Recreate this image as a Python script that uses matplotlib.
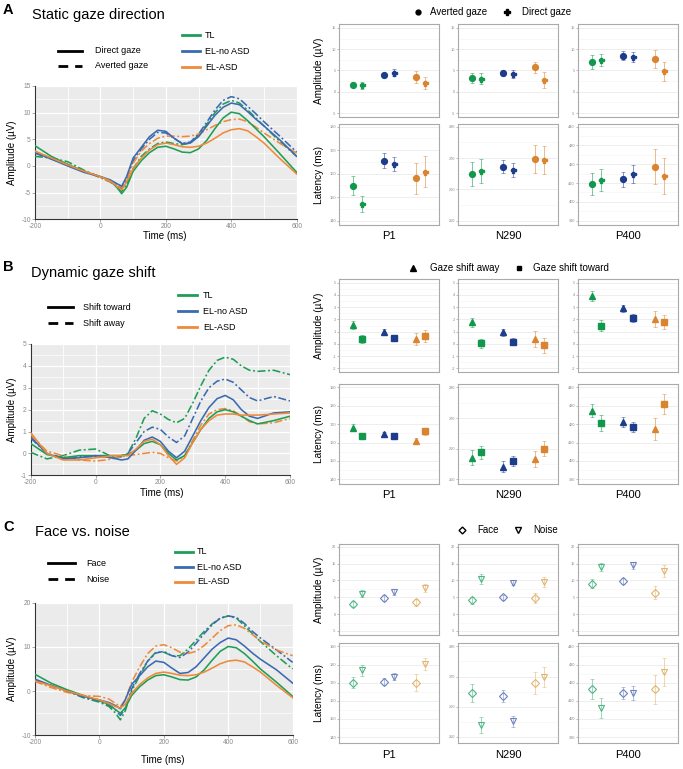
import matplotlib
matplotlib.use("Agg")
import matplotlib.pyplot as plt
from matplotlib.lines import Line2D
import numpy as np

plt.rcParams['font.family'] = ['Liberation Sans', 'DejaVu Sans']
plt.rcParams['axes.unicode_minus'] = False

W, H = 683, 769

# ---------------- data ----------------
groups = ["TL", "EL-no ASD", "EL-ASD"]
components = ["P1", "N290", "P400"]

t = [-200, -150, -100, -50, 0, 30, 50, 65, 80, 100, 125, 150, 175, 200, 225, 250,
     275, 300, 325, 350, 375, 400, 425, 450, 475, 500, 550, 600]

# Panel A ERP (static gaze direction)
A_TL_direct = [3.8, 1.8, 0.3, -1.0, -2.0, -2.8, -4.0, -5.2, -4.0, -1.0, 1.0, 2.5, 3.5, 3.7, 3.2, 2.6,
               2.5, 3.2, 4.8, 7.0, 9.0, 10.1, 9.8, 8.5, 7.0, 5.5, 2.2, -1.2]
A_TL_averted = [1.8, 1.5, 0.8, -0.8, -2.2, -3.0, -3.8, -4.8, -3.5, -0.5, 1.8, 3.2, 4.2, 4.5, 4.2, 4.0,
                4.3, 5.8, 7.8, 10.0, 11.6, 12.3, 11.8, 10.5, 9.0, 7.5, 4.5, 1.8]
A_ELno_direct = [2.5, 1.3, 0.0, -1.2, -2.0, -2.6, -3.3, -3.8, -2.0, 1.5, 3.5, 5.5, 6.7, 6.5, 5.2, 4.2,
                 4.3, 5.5, 7.5, 9.5, 11.0, 11.8, 11.5, 10.2, 8.8, 7.5, 4.8, 1.8]
A_ELno_averted = [2.4, 1.3, 0.2, -1.0, -2.0, -2.8, -3.6, -4.2, -2.5, 1.0, 3.2, 5.0, 6.3, 6.2, 5.2, 4.2,
                  4.5, 6.0, 8.2, 10.5, 12.3, 13.0, 12.6, 11.2, 9.8, 8.3, 5.5, 2.6]
A_ASD_direct = [2.8, 1.5, 0.2, -1.0, -2.0, -2.8, -3.8, -4.5, -3.0, -0.5, 1.5, 3.0, 4.0, 4.3, 4.0, 3.6,
                3.5, 3.7, 4.3, 5.2, 6.2, 6.8, 7.0, 6.6, 5.5, 4.3, 1.3, -1.5]
A_ASD_averted = [2.6, 1.5, 0.3, -1.0, -2.2, -3.0, -3.6, -4.0, -2.5, 0.5, 2.8, 4.2, 5.2, 5.6, 5.6, 5.5,
                 5.6, 6.0, 6.8, 7.6, 8.3, 8.7, 8.8, 8.3, 7.3, 6.2, 4.2, 2.4]

# Panel B ERP (dynamic gaze shift)
B_TL_toward = [0.45, -0.05, -0.2, -0.1, -0.1, -0.1, -0.1, -0.1, -0.1, -0.05, 0.15, 0.45, 0.55, 0.4, 0.0, -0.3,
               -0.1, 0.5, 1.1, 1.6, 1.9, 2.0, 1.9, 1.7, 1.5, 1.35, 1.5, 1.7]
B_TL_away = [0.05, -0.25, -0.1, 0.15, 0.2, 0.0, -0.15, -0.2, -0.1, 0.0, 0.7, 1.6, 1.95, 1.8, 1.55, 1.4,
             1.6, 2.3, 3.1, 3.8, 4.25, 4.4, 4.3, 4.0, 3.8, 3.75, 3.8, 3.6]
B_ELno_toward = [0.75, 0.0, -0.25, -0.2, -0.1, -0.15, -0.2, -0.25, -0.3, -0.25, 0.15, 0.6, 0.75, 0.55, 0.1, -0.2,
                 0.1, 0.8, 1.5, 2.1, 2.5, 2.65, 2.45, 2.0, 1.7, 1.6, 1.85, 1.9]
B_ELno_away = [0.7, 0.0, -0.2, -0.15, -0.15, -0.15, -0.2, -0.2, -0.15, 0.0, 0.5, 1.0, 1.2, 1.1, 0.75, 0.5,
               0.8, 1.6, 2.4, 3.0, 3.3, 3.4, 3.25, 2.9, 2.55, 2.4, 2.6, 2.4]
B_ASD_toward = [0.95, 0.0, -0.3, -0.3, -0.2, -0.15, -0.1, -0.1, -0.1, -0.1, 0.2, 0.55, 0.65, 0.4, -0.1, -0.5,
                -0.2, 0.5, 1.1, 1.5, 1.75, 1.8, 1.8, 1.75, 1.75, 1.75, 1.8, 1.85]
B_ASD_away = [0.85, 0.1, -0.1, -0.3, -0.35, -0.3, -0.25, -0.2, -0.15, -0.1, -0.05, 0.0, 0.05, 0.0, -0.2, -0.35,
              -0.1, 0.6, 1.3, 1.8, 2.0, 2.05, 1.95, 1.7, 1.45, 1.35, 1.4, 1.6]

# Panel C ERP (face vs noise)
C_TL_face = [3.8, 1.8, 0.3, -1.0, -2.2, -3.0, -4.2, -5.0, -3.8, -1.0, 1.0, 2.5, 3.5, 3.7, 3.2, 2.6,
             2.5, 3.2, 4.8, 7.0, 9.0, 10.1, 9.8, 8.5, 6.8, 5.0, 2.0, -1.2]
C_TL_noise = [2.5, 1.3, 0.0, -1.5, -2.5, -3.5, -5.0, -6.5, -4.5, 0.0, 3.5, 6.8, 8.8, 8.8, 8.0, 8.0,
              9.5, 11.5, 13.5, 15.2, 16.5, 17.0, 16.5, 14.8, 13.0, 11.2, 8.0, 5.0]
C_ELno_face = [2.7, 1.3, 0.0, -1.2, -2.0, -2.6, -3.3, -4.0, -2.0, 1.5, 3.5, 5.5, 6.8, 6.5, 5.2, 4.0,
               4.2, 5.5, 7.5, 9.5, 11.0, 12.0, 11.6, 10.2, 8.6, 7.2, 4.8, 1.8]
C_ELno_noise = [2.5, 1.2, 0.0, -1.3, -2.3, -3.2, -4.3, -5.5, -4.0, 0.5, 4.0, 6.8, 8.6, 9.0, 8.0, 7.6,
                8.8, 10.8, 13.0, 15.0, 16.5, 17.0, 16.7, 15.3, 13.5, 12.0, 9.3, 6.5]
C_ASD_face = [2.3, 1.2, 0.0, -1.0, -2.0, -2.8, -3.5, -3.8, -3.0, -0.5, 1.5, 3.0, 4.0, 4.3, 4.0, 3.6,
              3.5, 3.7, 4.3, 5.2, 6.2, 6.8, 7.0, 6.6, 5.5, 4.3, 1.3, -1.5]
C_ASD_noise = [2.2, 0.8, -0.3, -1.0, -1.2, -1.8, -2.8, -3.5, -2.0, 2.0, 5.5, 8.5, 10.2, 10.5, 9.8, 8.8,
               8.5, 9.0, 10.3, 12.0, 13.7, 14.8, 15.0, 14.2, 12.8, 11.3, 9.3, 8.0]

# Component means / errors: rows = P1, N290, P400 ; columns = TL, EL-no ASD, EL-ASD
A_amp_averted = [[1.65, 3.9, 3.4], [3.2, 4.4, 5.8], [7.0, 8.5, 7.7]]
A_amp_averted_err = [[0.55, 0.45, 1.4], [1.2, 0.7, 1.3], [1.7, 1.05, 2.0]]
A_amp_direct = [[1.5, 4.5, 2.0], [3.05, 4.2, 2.8], [7.4, 8.2, 4.8]]
A_amp_direct_err = [[0.8, 0.8, 1.4], [1.25, 0.9, 1.8], [1.4, 1.1, 2.3]]
A_lat_averted = [[154.9, 165.5, 158.0], [264.8, 267.3, 269.6], [409.5, 412.0, 418.7]]
A_lat_averted_err = [[4.1, 3.2, 6.6], [3.8, 2.2, 4.5], [5.9, 3.9, 9.3]]
A_lat_direct = [[147.1, 164.1, 160.9], [265.9, 266.2, 269.4], [411.6, 414.8, 413.8]]
A_lat_direct_err = [[3.5, 2.9, 6.7], [3.9, 2.3, 4.6], [5.7, 5.0, 9.4]]

B_amp_away = [[1.53, 0.96, 0.41], [1.75, 0.93, 0.38], [3.88, 2.92, 2.02]]
B_amp_away_err = [[0.35, 0.27, 0.5], [0.38, 0.3, 0.65], [0.4, 0.28, 0.68]]
B_amp_toward = [[0.4, 0.49, 0.66], [0.05, 0.19, -0.12], [1.5, 2.1, 1.77]]
B_amp_toward_err = [[0.3, 0.25, 0.5], [0.38, 0.28, 0.6], [0.45, 0.33, 0.55]]
B_lat_away = [[168.1, 164.8, 160.8], [257.1, 254.2, 256.5], [427.3, 421.3, 417.5]]
B_lat_away_err = [[1.8, 1.1, 1.8], [2.4, 1.7, 2.6], [3.4, 2.8, 5.9]]
B_lat_toward = [[163.6, 163.7, 166.1], [258.8, 256.0, 260.0], [420.4, 418.4, 430.9]]
B_lat_toward_err = [[1.7, 1.1, 2.0], [2.2, 1.6, 2.4], [4.3, 2.7, 5.2]]

C_amp_face = [[2.97, 4.8, 3.5], [4.1, 5.0, 4.7], [9.0, 9.8, 6.4]]
C_amp_face_err = [[0.8, 0.8, 1.1], [1.1, 0.7, 1.5], [1.3, 1.0, 1.8]]
C_amp_noise = [[6.1, 6.6, 7.8], [10.4, 9.3, 9.5], [14.0, 14.5, 12.8]]
C_amp_noise_err = [[1.0, 0.8, 1.1], [1.4, 0.8, 1.5], [1.3, 1.0, 1.9]]
C_lat_face = [[170.0, 170.6, 170.0], [264.6, 263.6, 267.9], [416.7, 414.3, 416.3]]
C_lat_face_err = [[2.9, 2.0, 4.8], [3.0, 2.0, 3.7], [5.5, 3.3, 7.8]]
C_lat_noise = [[176.9, 173.3, 180.4], [254.0, 255.2, 269.8], [405.9, 414.3, 425.9]]
C_lat_noise_err = [[3.0, 2.0, 3.2], [2.7, 1.9, 3.2], [5.6, 3.8, 7.6]]

# ---------------- style ----------------
erp_colors = ['#1E9E55', '#3A6BB0', '#EE8A3A']
dot_colors = ['#12984C', '#1D3D8C', '#DA8430']
dot_colors_light = ['#4DB584', '#6C82BC', '#E1B46E']
DASH = (0, (5, 1.6, 1.2, 1.6))

fig = plt.figure(figsize=(W / 100, H / 100), dpi=100)


def rect(x0, y0, x1, y1):
    return [x0 / W, 1 - y1 / H, (x1 - x0) / W, (y1 - y0) / H]


def ftext(x, y, s, **kw):
    fig.text(x / W, 1 - y / H, s, **kw)


def fline(x0, x1, y, **kw):
    fig.add_artist(Line2D([x0 / W, x1 / W], [1 - y / H, 1 - y / H],
                          transform=fig.transFigure, **kw))


def fmark(x, y, **kw):
    fig.add_artist(Line2D([x / W], [1 - y / H], transform=fig.transFigure,
                          linestyle='none', **kw))


def erp_panel(r, curves_solid, curves_dash, ylim, ystep):
    ax = fig.add_axes(r)
    ax.set_facecolor('#EBEBEB')
    ax.set_xlim(-200, 600)
    ax.set_ylim(*ylim)
    for xv in range(-200, 601, 100):
        ax.axvline(xv, color='white', lw=0.9 if xv % 200 == 0 else 0.6, zorder=0)
    yv = ylim[0]
    while yv <= ylim[1] + 1e-9:
        ax.axhline(yv, color='white', lw=0.9, zorder=0)
        ax.axhline(yv + ystep / 2, color='white', lw=0.5, zorder=0)
        yv += ystep
    for vals, c in zip(curves_dash, erp_colors):
        ax.plot(t, vals, color=c, lw=1.15, ls=DASH, zorder=3)
    for vals, c in zip(curves_solid, erp_colors):
        ax.plot(t, vals, color=c, lw=1.15, zorder=3)
    ax.set_xticks(range(-200, 601, 200))
    ax.set_yticks(np.arange(ylim[0], ylim[1] + 0.01, ystep))
    ax.tick_params(labelsize=4.8, colors='#888888', length=2, width=0.5, pad=1)
    for s in ['top', 'right']:
        ax.spines[s].set_visible(False)
    for s in ['left', 'bottom']:
        ax.spines[s].set_color('#333333')
        ax.spines[s].set_linewidth(0.8)
    return ax


def dot_panel(r, v1, e1, v2, e2, comp, ylim, ticks, m1, m2, colors, open_marks=False, s1=4.0, s2=3.6):
    ax = fig.add_axes(r)
    ax.set_xlim(0.4, 3.6)
    ax.set_ylim(*ylim)
    step = ticks[1] - ticks[0]
    for tv in ticks:
        ax.axhline(tv, color='#EBEBEB', lw=0.6, zorder=0)
        ax.axhline(tv + step / 2, color='#F3F3F3', lw=0.4, zorder=0)
    for g in range(3):
        c = colors[g]
        for (vv, ee, mk, off, ms) in [(v1, e1, m1, -0.15, s1), (v2, e2, m2, 0.15, s2)]:
            xv = g + 1 + off
            ax.errorbar([xv], [vv[comp][g]], yerr=[ee[comp][g]], fmt='none', ecolor=c,
                        elinewidth=0.7, capsize=1.2, capthick=0.6, alpha=0.55, zorder=2)
            if open_marks:
                ax.plot([xv], [vv[comp][g]], marker=mk, ms=ms, mfc='none', mec=c, mew=0.8,
                        ls='none', zorder=3)
            else:
                ax.plot([xv], [vv[comp][g]], marker=mk, ms=ms, color=c, ls='none', zorder=3)
    ax.set_xticks([])
    ax.set_yticks(ticks)
    ax.set_yticklabels([str(int(v)) for v in ticks])
    ax.tick_params(axis='y', labelsize=2.8, colors='#888888', length=1.2, width=0.4, pad=1)
    for s in ax.spines.values():
        s.set_color('#AAAAAA')
        s.set_linewidth(0.8)
    return ax


cols = [(339, 439), (458, 558), (578, 678)]

# ================= Panel A =================
ftext(3, 10, 'A', fontsize=10.5, fontweight='bold', va='center', ha='left')
ftext(32, 15, 'Static gaze direction', fontsize=10.5, va='center', ha='left')
fline(58, 82, 50.5, color='black', lw=2)
fline(58, 82, 66, color='black', lw=2, ls=(0, (3.5, 2.5)))
ftext(95, 50.5, 'Direct gaze', fontsize=6.5, va='center')
ftext(95, 66, 'Averted gaze', fontsize=6.5, va='center')
for i, (g, yy) in enumerate(zip(groups, [35, 51, 67])):
    fline(182, 200, yy, color=erp_colors[i], lw=2)
    ftext(205, yy, g, fontsize=6.5, va='center')

ax = erp_panel(rect(35, 86, 296.7, 219.3),
               [A_TL_direct, A_ELno_direct, A_ASD_direct],
               [A_TL_averted, A_ELno_averted, A_ASD_averted], (-10, 15), 5)
ftext(12, 153, 'Amplitude (µV)', fontsize=7, rotation=90, va='center', ha='center')
ftext(165, 236, 'Time (ms)', fontsize=7, va='center', ha='center')

fmark(418, 12, marker='o', ms=3.5, color='black')
ftext(430, 12, 'Averted gaze', fontsize=7, va='center')
fmark(507, 12, marker='P', ms=4, color='black')
ftext(522, 12, 'Direct gaze', fontsize=7, va='center')

A_lat_lims = [(138.2, 181.1), (248.6, 280.9), (387.7, 441.4)]
A_lat_ticks = [[140, 150, 160, 170, 180], [250, 260, 270, 280], [390, 400, 410, 420, 430, 440]]
for k in range(3):
    x0, x1 = cols[k]
    dot_panel(rect(x0, 24, x1, 117), A_amp_averted, A_amp_averted_err, A_amp_direct, A_amp_direct_err,
              k, (-5.9, 15.9), [-5, 0, 5, 10, 15], 'o', 'P', dot_colors, s1=4.2, s2=3.6)
    dot_panel(rect(x0, 124, x1, 225), A_lat_averted, A_lat_averted_err, A_lat_direct, A_lat_direct_err,
              k, A_lat_lims[k], A_lat_ticks[k], 'o', 'P', dot_colors, s1=4.2, s2=3.6)
    ftext((x0 + x1) / 2, 236, components[k], fontsize=8, ha='center', va='center')
ftext(319, 70.5, 'Amplitude (µV)', fontsize=7.2, rotation=90, va='center', ha='center')
ftext(319, 174.5, 'Latency (ms)', fontsize=7.2, rotation=90, va='center', ha='center')

# ================= Panel B =================
ftext(3, 267, 'B', fontsize=10.5, fontweight='bold', va='center', ha='left')
ftext(31, 273, 'Dynamic gaze shift', fontsize=10.5, va='center', ha='left')
fline(48, 73, 307, color='black', lw=2)
fline(48, 73, 323, color='black', lw=2, ls=(0, (3.5, 2.5)))
ftext(83, 307, 'Shift toward', fontsize=6.5, va='center')
ftext(83, 323, 'Shift away', fontsize=6.5, va='center')
for i, (g, yy) in enumerate(zip(groups, [295, 311, 327])):
    fline(178, 197, yy, color=erp_colors[i], lw=2)
    ftext(203, yy, g, fontsize=6.5, va='center')

ax = erp_panel(rect(30.7, 344, 290, 475.3),
               [B_TL_toward, B_ELno_toward, B_ASD_toward],
               [B_TL_away, B_ELno_away, B_ASD_away], (-1, 5), 1)
ftext(12, 410, 'Amplitude (µV)', fontsize=7, rotation=90, va='center', ha='center')
ftext(162, 493, 'Time (ms)', fontsize=7, va='center', ha='center')

fmark(413, 268, marker='^', ms=4, color='black')
ftext(430, 268, 'Gaze shift away', fontsize=7, va='center')
fmark(519, 268, marker='s', ms=3.5, color='black')
ftext(533, 268, 'Gaze shift toward', fontsize=7, va='center')

B_lat_lims = [(137.5, 191.8), (248.5, 281.1), (387.5, 441.8)]
B_lat_ticks = [[140, 150, 160, 170, 180, 190], [250, 260, 270, 280], [390, 400, 410, 420, 430, 440]]
for k in range(3):
    x0, x1 = cols[k]
    dot_panel(rect(x0, 279, x1, 372), B_amp_away, B_amp_away_err, B_amp_toward, B_amp_toward_err,
              k, (-2.3, 5.3), [-2, -1, 0, 1, 2, 3, 4, 5], '^', 's', dot_colors, s1=4.0, s2=3.7)
    dot_panel(rect(x0, 384, x1, 484), B_lat_away, B_lat_away_err, B_lat_toward, B_lat_toward_err,
              k, B_lat_lims[k], B_lat_ticks[k], '^', 's', dot_colors, s1=4.0, s2=3.7)
    ftext((x0 + x1) / 2, 495, components[k], fontsize=8, ha='center', va='center')
ftext(319, 325.5, 'Amplitude (µV)', fontsize=7.2, rotation=90, va='center', ha='center')
ftext(319, 434, 'Latency (ms)', fontsize=7.2, rotation=90, va='center', ha='center')

# ================= Panel C =================
ftext(3, 527, 'C', fontsize=10.5, fontweight='bold', va='center', ha='left')
ftext(35, 532, 'Face vs. noise', fontsize=10.5, va='center', ha='left')
fline(48, 75, 563, color='black', lw=2)
fline(48, 75, 579, color='black', lw=2, ls=(0, (3.5, 2.5)))
ftext(86, 563, 'Face', fontsize=6.5, va='center')
ftext(86, 579, 'Noise', fontsize=6.5, va='center')
for i, (g, yy) in enumerate(zip(groups, [552, 567, 582])):
    fline(175, 193, yy, color=erp_colors[i], lw=2)
    ftext(197, yy, g, fontsize=6.5, va='center')

ax = erp_panel(rect(35, 602.7, 292.7, 735.3),
               [C_TL_face, C_ELno_face, C_ASD_face],
               [C_TL_noise, C_ELno_noise, C_ASD_noise], (-10, 20), 10)
ftext(12, 669, 'Amplitude (µV)', fontsize=7, rotation=90, va='center', ha='center')
ftext(163, 760, 'Time (ms)', fontsize=7, va='center', ha='center')

fmark(462, 530, marker='D', ms=3.5, mfc='none', mec='black', mew=1.0)
ftext(477, 530, 'Face', fontsize=7, va='center')
fmark(518, 530, marker='v', ms=4.2, mfc='none', mec='black', mew=1.0)
ftext(533, 530, 'Noise', fontsize=7, va='center')

C_lat_lims = [(136.7, 191.9), (248.0, 281.1), (386.7, 441.9)]
C_lat_ticks = [[140, 150, 160, 170, 180, 190], [250, 260, 270, 280], [390, 400, 410, 420, 430, 440]]
for k in range(3):
    x0, x1 = cols[k]
    dot_panel(rect(x0, 544, x1, 635), C_amp_face, C_amp_face_err, C_amp_noise, C_amp_noise_err,
              k, (-6.2, 20.8), [-5, 0, 5, 10, 15, 20], 'D', 'v', dot_colors_light, open_marks=True,
              s1=3.6, s2=4.0)
    dot_panel(rect(x0, 643, x1, 743), C_lat_face, C_lat_face_err, C_lat_noise, C_lat_noise_err,
              k, C_lat_lims[k], C_lat_ticks[k], 'D', 'v', dot_colors_light, open_marks=True,
              s1=3.6, s2=4.0)
    ftext((x0 + x1) / 2, 755, components[k], fontsize=8, ha='center', va='center')
ftext(319, 589.5, 'Amplitude (µV)', fontsize=7.2, rotation=90, va='center', ha='center')
ftext(319, 693, 'Latency (ms)', fontsize=7.2, rotation=90, va='center', ha='center')

fig.savefig('out.png', dpi=100)
